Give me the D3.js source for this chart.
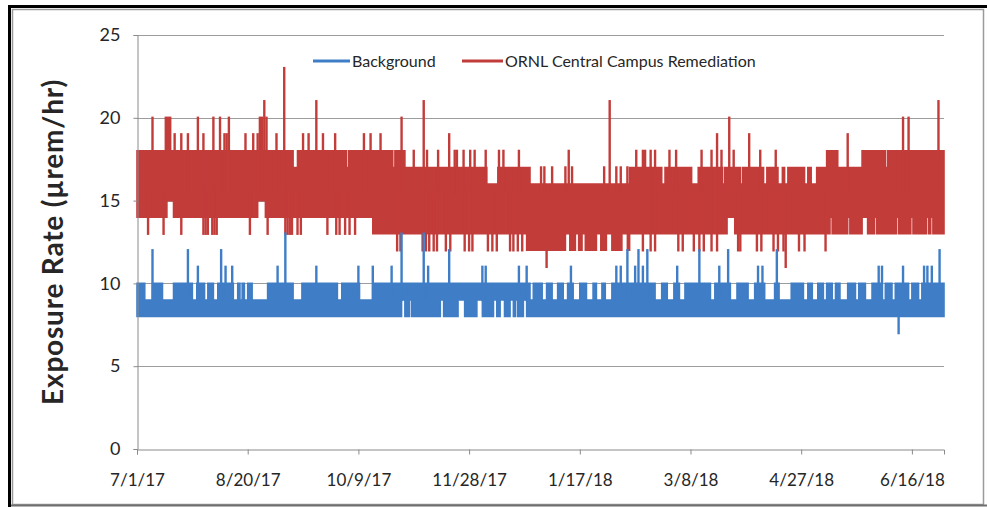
<!DOCTYPE html>
<html>
<head>
<meta charset="utf-8">
<script src="https://cdn.jsdelivr.net/npm/d3@7"></script>
<style>
  body { margin: 0; background: #fff; }
  svg text { font-family: Lato, "Open Sans", sans-serif; fill: #262626; }
</style>
</head>
<body>
<svg id="chart" width="987" height="507"></svg>
<script>
// hourly exposure readings, summarised as band edges plus spikes
// all days are counted from 7/1/17
var startDate = Date.UTC(2017, 6, 1);
var endDay = 364.5;

var yTicks = [0, 5, 10, 15, 20, 25];
var xTickLabels = ["7/1/17", "8/20/17", "10/9/17", "11/28/17", "1/17/18", "3/8/18", "4/27/18", "6/16/18"];
var seriesNames = ["Background", "ORNL Central Campus Remediation"];

// ORNL Central Campus Remediation
var redTopRuns = [[0, 18], [121, 17], [158, 16], [163, 17], [177.5, 16], [222.5, 17], [327.5, 18]];
var redTopNotches = [[70.5, 72.5, 17], [94.5, 95.5, 17], [115.5, 116.5, 17], [237, 238.5, 16], [250.5, 253.5, 16],
  [264.5, 265.5, 16], [272.5, 273.5, 16], [283, 284.5, 16], [289.5, 291.5, 16], [292.5, 294, 16], [301.5, 303, 16],
  [304.5, 307, 16], [311.5, 316.5, 18], [338, 339, 17]];
var redBottomRuns = [[0, 14], [106.5, 13], [176, 12], [222.5, 13]];
var redBottomNotches = [[13.5, 16.5, 15], [54.5, 58, 15], [193.5, 195.5, 13], [198, 199.5, 13], [201, 202.5, 13],
  [207.5, 209.5, 13], [212, 214.5, 13], [219, 221.5, 13], [266.5, 270, 14], [313, 314, 14], [321, 322, 14],
  [327.5, 330, 14], [333, 334, 14], [343, 344, 14], [349.5, 350.5, 14], [356.5, 357.5, 14], [358.5, 359.5, 14]];
var redPeaks = [[7, 20], [13, 20], [14, 20], [15, 20], [17, 19], [20, 19], [23, 19], [27.5, 20], [30, 19], [34.5, 20],
  [37.5, 20], [39.5, 19], [40.5, 19], [41.5, 20], [49, 19], [52.5, 19], [54.5, 19], [55.5, 20], [56.5, 20], [57.5, 21],
  [58.5, 20], [63, 19], [66.5, 23], [75, 19], [77.5, 19], [81, 21], [84, 19], [89.5, 19], [102.5, 19], [105.5, 19],
  [110, 19], [119.5, 20], [125, 18], [129.5, 21], [131, 18], [136, 18], [141, 19], [143.5, 18], [144.5, 18],
  [147.5, 18], [150.5, 18], [152.5, 18], [157.5, 18], [163.5, 18], [165.5, 18], [172.5, 18], [182.5, 17], [184, 17],
  [187.5, 17], [193.5, 17], [195, 18], [196.5, 17], [211, 17], [213.5, 21], [216.5, 17], [218.5, 17], [221.5, 17],
  [225.5, 18], [228.5, 18], [229.5, 18], [232, 18], [234, 18], [240.5, 18], [243.5, 18], [255, 18], [259.5, 18],
  [262, 19], [264, 18], [267.5, 20], [269.5, 18], [276.5, 19], [281.5, 18], [288.5, 18], [321, 19], [346, 20],
  [348.5, 20], [362, 21]];
var redDips = [[5, 13], [12, 13], [20, 13], [30, 13], [31, 13], [32, 13], [34, 13], [35, 13], [36, 13], [51, 13],
  [59, 13], [67, 13], [68, 13], [69, 13], [70, 13], [72.5, 13], [74, 13], [86, 13], [90, 13], [91.5, 13], [94, 13],
  [96, 13], [98.5, 13], [117.5, 12], [119, 12], [129, 12], [130.5, 12], [132, 12], [134, 12], [135.5, 12],
  [139.5, 12], [141.5, 12], [148, 12], [150, 12], [151.5, 12], [158.5, 12], [160.5, 12], [162.5, 12], [168.5, 12],
  [170, 12], [172, 12], [174, 12], [185, 11], [228.5, 12], [232, 12], [234, 12], [244.5, 12], [246.5, 12],
  [251.5, 12], [254, 12], [256, 12], [259.5, 12], [262, 12], [271.5, 12], [272.5, 12], [280, 12], [282, 12],
  [287.5, 12], [289.5, 12], [292, 12], [293, 11], [299, 12], [301.5, 12], [311, 12]];

// Background
var blueTopRuns = [[0, 10]];
var blueTopNotches = [[3.5, 7, 9], [11.5, 16.5, 9], [25, 27, 9], [30.5, 32, 9], [34.5, 36.5, 9], [43.5, 45.5, 9],
  [46.5, 47.5, 9], [48.5, 50, 9], [52, 59, 9], [70.5, 74.5, 9], [90.5, 92.5, 9], [100.5, 106.5, 9], [177.5, 179, 9],
  [183, 185, 9], [187.5, 190, 9], [192.5, 194.5, 9], [197, 200, 9], [203, 206, 9], [207.5, 210, 9], [211.5, 214.5, 9],
  [234, 237, 9], [239.5, 242.5, 9], [245, 247.5, 9], [259, 261, 9], [268, 271, 9], [276, 279, 9], [283.5, 288, 9],
  [290, 295.5, 9], [301, 303, 9], [305, 307.5, 9], [310, 311.5, 9], [314, 315.5, 9], [317.5, 321, 9], [324.5, 326, 9],
  [329, 332, 9], [336.5, 338, 9], [341, 342.5, 9], [348.5, 350, 9], [353, 354.5, 9]];
var blueBottomRuns = [[0, 8]];
var blueBottomNotches = [[119.5, 121, 9], [123, 124, 9], [137, 138.5, 9], [145, 148, 9], [153.5, 156, 9],
  [161, 162.5, 9], [164, 166, 9], [168.5, 170, 9], [171, 172, 9], [174.5, 176, 9]];
var bluePeaks = [[7, 12], [23, 12], [27.5, 11], [38, 12], [40, 11], [43, 11], [63.5, 11], [67, 13], [81, 11],
  [100, 11], [106.5, 11], [115, 11], [119.5, 13], [129.5, 13], [131.5, 11], [141, 12], [156, 11], [157.5, 11],
  [172.5, 11], [176, 11], [196, 11], [216.5, 11], [218.5, 11], [221.5, 12], [225, 11], [226.5, 12], [228.5, 11],
  [230.5, 12], [244, 11], [254, 12], [263, 11], [267, 12], [280.5, 11], [282.5, 11], [289, 12], [335, 11],
  [336.5, 11], [346, 11], [355.5, 11], [357, 11], [359, 11], [362.5, 12]];
var blueDips = [[344, 7]];

var blue = "#3f7ec6", red = "#c23c3a";

var series = [
  { name: seriesNames[1], color: red, mid: 15.5, topRuns: redTopRuns, topNotches: redTopNotches,
    bottomRuns: redBottomRuns, bottomNotches: redBottomNotches, peaks: redPeaks, dips: redDips },
  { name: seriesNames[0], color: blue, mid: 9, topRuns: blueTopRuns, topNotches: blueTopNotches,
    bottomRuns: blueBottomRuns, bottomNotches: blueBottomNotches, peaks: bluePeaks, dips: blueDips }
];

function toDate(day) { return new Date(startDate + day * 864e5); }

function levelAt(day, runs, notches) {
  for (var i = 0; i < notches.length; i++) {
    if (day >= notches[i][0] && day < notches[i][1]) return notches[i][2];
  }
  var v = runs[0][1];
  runs.forEach(function (r) { if (r[0] <= day) v = r[1]; });
  return v;
}

function bandPoints(s) {
  var b = [0, endDay];
  s.topRuns.concat(s.bottomRuns).forEach(function (r) { b.push(r[0]); });
  s.topNotches.concat(s.bottomNotches).forEach(function (n) { b.push(n[0]); b.push(n[1]); });
  b = Array.from(new Set(b)).sort(function (a, c) { return a - c; });
  return b.map(function (d) {
    return { day: d, hi: levelAt(d, s.topRuns, s.topNotches), lo: levelAt(d, s.bottomRuns, s.bottomNotches) };
  });
}

var svg = d3.select("#chart");

// frame
svg.append("rect").attr("x", 9.5).attr("y", 6.5).attr("width", 1000).attr("height", 520)
  .attr("fill", "none").attr("stroke", "#000").attr("stroke-width", 3);
svg.append("rect").attr("x", 12.5).attr("y", 9.5).attr("width", 971).attr("height", 495)
  .attr("fill", "none").attr("stroke", "#9a9a9a").attr("stroke-width", 1.5);
svg.append("line").attr("x1", 11).attr("x2", 987).attr("y1", 505.5).attr("y2", 505.5)
  .attr("stroke", "#6e6e6e").attr("stroke-width", 2);

var plotLeft = 137, plotRight = 944, plotTop = 35, plotBottom = 449;

var x = d3.scaleUtc()
  .domain([toDate(0), toDate(endDay)])
  .range([plotLeft, plotRight]);

var y = d3.scaleLinear()
  .domain([0, 25])
  .range([plotBottom, plotTop]);

var parseTick = d3.utcParse("%m/%d/%y");
var xTickDates = xTickLabels.map(function (t) { return parseTick(t); });

// grid
svg.append("g").selectAll("line")
  .data(yTicks.slice(1))
  .enter().append("line")
    .attr("x1", plotLeft).attr("x2", plotRight)
    .attr("y1", function (d) { return Math.round(y(d)) + 0.5; })
    .attr("y2", function (d) { return Math.round(y(d)) + 0.5; })
    .attr("stroke", "#9c9c9c").attr("stroke-width", 1);

// series bands and spikes
series.forEach(function (s) {
  var g = svg.append("g").attr("class", "series");
  var area = d3.area()
    .curve(d3.curveStepAfter)
    .x(function (d) { return x(toDate(d.day)); })
    .y0(function (d) { return y(d.lo); })
    .y1(function (d) { return y(d.hi); });

  g.append("path")
    .datum(bandPoints(s))
    .attr("d", area)
    .attr("fill", s.color)
    .attr("stroke", s.color)
    .attr("stroke-width", 1.6);

  g.selectAll(".spike")
    .data(s.peaks.concat(s.dips))
    .enter().append("line")
      .attr("class", "spike")
      .attr("x1", function (d) { return x(toDate(d[0])); })
      .attr("x2", function (d) { return x(toDate(d[0])); })
      .attr("y1", y(s.mid))
      .attr("y2", function (d) { return y(d[1]); })
      .attr("stroke", s.color)
      .attr("stroke-width", 2.4)
      .attr("stroke-linecap", "square");
});

// axes
var xAxis = d3.axisBottom(x)
  .tickValues(xTickDates)
  .tickSize(5)
  .tickPadding(19)
  .tickFormat(function (d, i) { return xTickLabels[i]; });

var gx = svg.append("g")
  .attr("transform", "translate(0," + (plotBottom + 0.5) + ")")
  .call(xAxis);
gx.select(".domain").attr("stroke", "#8a8a8a");
gx.selectAll(".tick line").attr("stroke", "#8a8a8a");
gx.selectAll("text").style("font-size", "17px").attr("fill", "#262626");

var yAxis = d3.axisLeft(y)
  .tickValues(yTicks)
  .tickSize(4)
  .tickPadding(13)
  .tickFormat(d3.format("d"));

var gy = svg.append("g")
  .attr("transform", "translate(" + (plotLeft + 0.5) + ",0)")
  .call(yAxis);
gy.select(".domain").attr("stroke", "#8a8a8a");
gy.selectAll(".tick line").attr("stroke", "#8a8a8a");
gy.selectAll("text").style("font-size", "18px").attr("fill", "#262626");

// y title
svg.append("text")
  .attr("transform", "translate(63,242) rotate(-90)")
  .attr("text-anchor", "middle")
  .style("font-size", "28px")
  .style("font-weight", "bold")
  .style("letter-spacing", "0.8px")
  .attr("fill", "#111")
  .text("Exposure Rate (\u00b5rem/hr)");

// legend
var legend = [
  { name: seriesNames[0], color: blue, x1: 313, x2: 350 },
  { name: seriesNames[1], color: red, x1: 462, x2: 503 }
];
var lg = svg.append("g").selectAll("g")
  .data(legend)
  .enter().append("g");
lg.append("line")
  .attr("x1", function (d) { return d.x1; })
  .attr("x2", function (d) { return d.x2; })
  .attr("y1", 61).attr("y2", 61)
  .attr("stroke", function (d) { return d.color; })
  .attr("stroke-width", 3);
lg.append("text")
  .attr("x", function (d) { return d.x2 + 2; })
  .attr("y", 67)
  .style("font-size", "16px")
  .text(function (d) { return d.name; });
</script>
</body>
</html>
